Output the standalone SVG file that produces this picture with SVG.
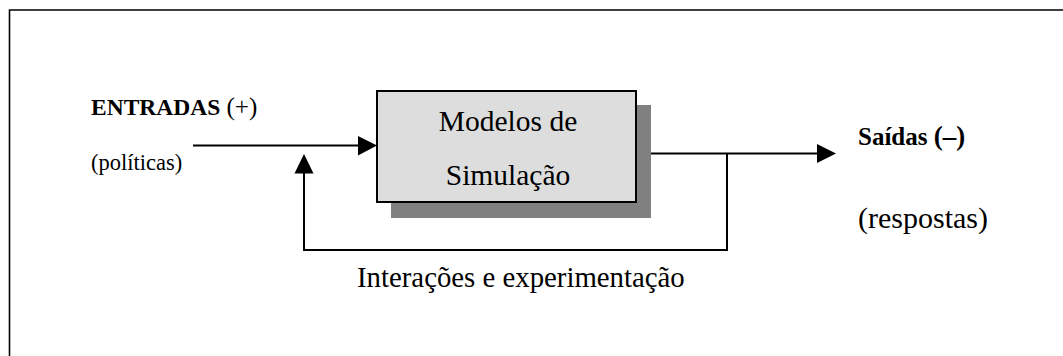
<svg xmlns="http://www.w3.org/2000/svg" width="1063" height="356" viewBox="0 0 1063 356">
  <style>
    .serif { font-family: "Liberation Serif", "Times New Roman", serif; fill: #000; }
    .bold { font-weight: bold; }
    .wire { fill: none; stroke: #000; stroke-width: 2; }
    .head { fill: #000; stroke: none; }
  </style>
  <rect width="1063" height="356" fill="#fff"/>

  <!-- outer frame (open to right and bottom) -->
  <path d="M9.5,356 V10 H1063" fill="none" stroke="#000" stroke-width="1.6"/>

  <!-- connectors -->
  <g id="connectors">
    <!-- input -->
    <line class="wire" x1="193" y1="145.5" x2="360" y2="145.5"/>
    <polygon class="head" points="358,136 377,145.5 358,155.5"/>
    <!-- output -->
    <line class="wire" x1="651" y1="153.5" x2="819" y2="153.5"/>
    <polygon class="head" points="817,144 836,153.5 817,163"/>
    <!-- feedback loop -->
    <polyline class="wire" points="727,153.5 727,250 304,250 304,172"/>
    <polygon class="head" points="294.5,173.5 304,154 313.5,173.5"/>
  </g>

  <!-- simulation model block -->
  <g id="node-modelos">
    <rect x="391" y="105" width="260" height="113" fill="#808080"/>
    <rect x="377" y="91" width="259" height="111" fill="#dddddd" stroke="#000" stroke-width="2"/>
    <text class="serif" x="508" y="131" font-size="29.5" text-anchor="middle">Modelos de</text>
    <text class="serif" x="508" y="185" font-size="29.5" text-anchor="middle">Simulação</text>
  </g>

  <g id="node-entradas">
    <text class="serif" x="91" y="115" font-size="23.5"><tspan class="bold">ENTRADAS</tspan><tspan font-size="25"> (+)</tspan></text>
    <text class="serif" x="91" y="170" font-size="22.5">(políticas)</text>
  </g>

  <g id="node-saidas">
    <text class="serif bold" x="858" y="145" font-size="25">Saídas <tspan font-size="27">(–)</tspan></text>
    <text class="serif" x="858" y="228" font-size="30">(respostas)</text>
  </g>

  <g id="label-loop">
    <text class="serif" x="357" y="287" font-size="28.8">Interações e experimentação</text>
  </g>
</svg>
